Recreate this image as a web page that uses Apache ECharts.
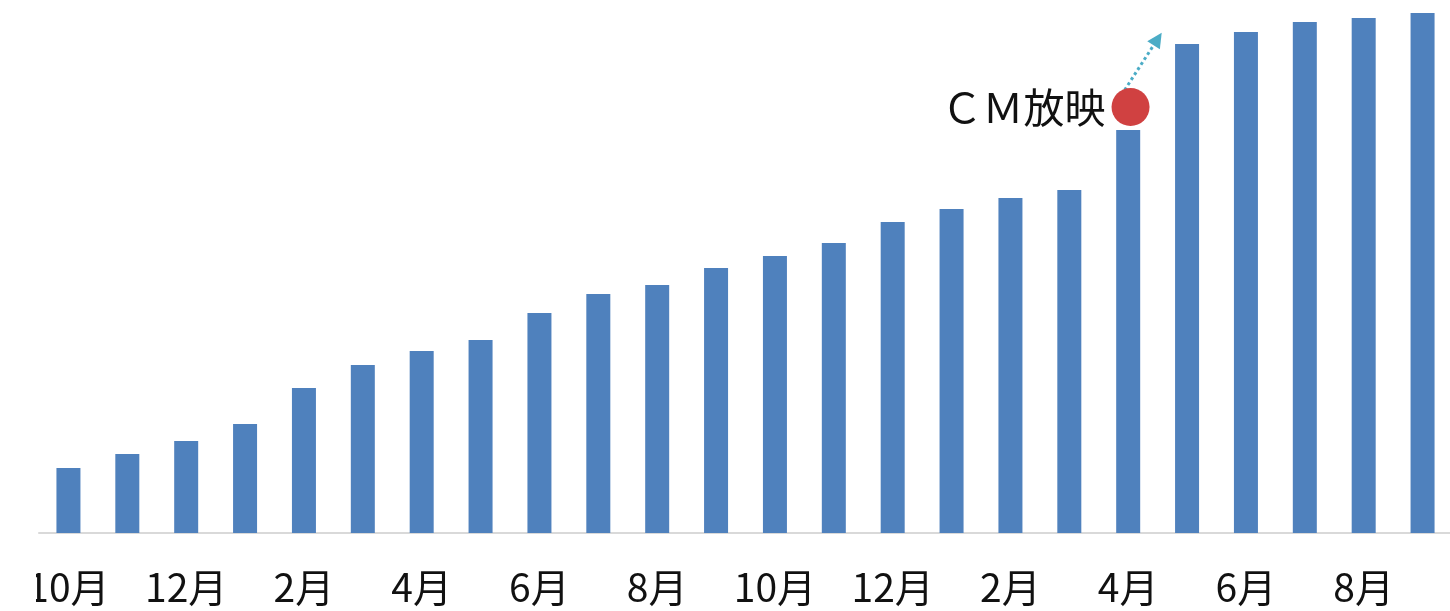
<!DOCTYPE html>
<html>
<head>
<meta charset="utf-8">
<script src="https://cdn.jsdelivr.net/npm/echarts@6/dist/echarts.min.js"></script>
<style>
  html, body { margin: 0; padding: 0; background: #ffffff; overflow: hidden; }
  #chart { width: 1460px; height: 611px; }
</style>
</head>
<body>
<div id="chart"></div>
<script>
// Monthly totals, October through September two years later
const months = ['10月','11月','12月','1月','2月','3月','4月','5月','6月','7月','8月','9月',
                '10月','11月','12月','1月','2月','3月','4月','5月','6月','7月','8月','9月'];
const values = [65, 79, 92, 109, 145, 168, 182, 193, 220, 239, 248, 265,
                277, 290, 311, 324, 335, 343, 403, 489, 501, 511, 515, 520];

// Campaign marker: month index, marker height, and arrow start/end (index, value)
const cmLabel = 'ＣＭ放映';
const cmPoint = [18.04, 426];
const cmArrow = [[17.94, 443], [18.5, 494]];

const chart = echarts.init(document.getElementById('chart'));
chart.setOption({
  animation: false,
  backgroundColor: '#ffffff',
  grid: { left: 39, right: 8, top: 13, bottom: 78 },
  xAxis: [
    {
      type: 'category',
      data: months,
      axisLine: { lineStyle: { color: '#d9d9d9', width: 2 } },
      axisTick: { show: false },
      axisLabel: {
        interval: 1,
        margin: 35,
        fontSize: 39,
        color: '#111111',
        fontFamily: '"Noto Sans CJK JP", sans-serif'
      }
    },
    {
      type: 'value',
      min: -0.5,
      max: months.length - 0.5,
      show: false
    }
  ],
  yAxis: { type: 'value', min: 0, max: 520, show: false },
  series: [
    {
      type: 'bar',
      data: values,
      barWidth: 24,
      itemStyle: { color: '#4f81bd' }
    },
    {
      type: 'scatter',
      xAxisIndex: 1,
      data: [cmPoint],
      symbolSize: 38,
      itemStyle: { color: '#d04141', opacity: 1 },
      label: {
        show: true,
        position: 'left',
        distance: 6,
        formatter: cmLabel,
        fontSize: 41,
        color: '#111111',
        fontFamily: '"Noto Sans CJK JP", sans-serif'
      },
      z: 5,
      markLine: {
        silent: true,
        symbol: ['none', 'triangle'],
        symbolSize: [15, 15],
        label: { show: false },
        lineStyle: { color: '#4bacc6', width: 3, type: 'dotted', opacity: 1 },
        data: [[{ coord: cmArrow[0] }, { coord: cmArrow[1] }]]
      }
    }
  ],
  graphic: [
    { type: 'rect', left: 0, top: 545, shape: { width: 36, height: 66 },
      style: { fill: '#ffffff' }, z: 100 }
  ]
});
</script>
</body>
</html>
